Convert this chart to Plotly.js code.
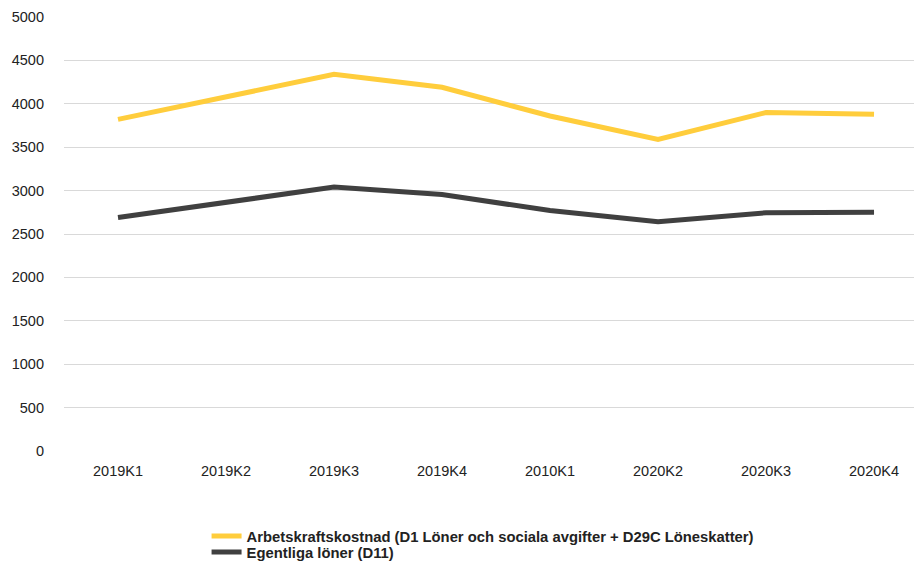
<!DOCTYPE html>
<html>
<head>
<meta charset="utf-8">
<script src="https://cdn.plot.ly/plotly-3.0.1.min.js"></script>
<style>html,body{margin:0;padding:0;background:#fff}#chart{width:914px;height:562px}</style>
</head>
<body>
<div id="chart"></div>
<script>
const categories = ["2019K1","2019K2","2019K3","2019K4","2010K1","2020K2","2020K3","2020K4"];
const arbetskraftskostnad = [3820, 4080, 4340, 4190, 3860, 3590, 3900, 3880];
const egentligaLoner = [2690, 2860, 3040, 2955, 2770, 2640, 2745, 2750];
const seriesNames = ["Arbetskraftskostnad (D1 Löner och sociala avgifter + D29C Löneskatter)", "Egentliga löner (D11)"];
const yTicks = [0,500,1000,1500,2000,2500,3000,3500,4000,4500,5000];

const traces = [
  {x: categories, y: arbetskraftskostnad, name: seriesNames[0], type: "scatter", mode: "lines",
   line: {color: "#FFCD3C", width: 5}, legend: "legend"},
  {x: categories, y: egentligaLoner, name: seriesNames[1], type: "scatter", mode: "lines",
   line: {color: "#404040", width: 5}, legend: "legend2"}
];

const legendBase = {xref: "container", yref: "container", x: 0.226, xanchor: "left", yanchor: "middle",
  font: {size: 14.8, color: "#222", weight: "bold"}, itemwidth: 30, bgcolor: "rgba(0,0,0,0)"};

const layout = {
  width: 914, height: 562,
  margin: {l: 64, r: 0, t: 17, b: 111, autoexpand: false},
  paper_bgcolor: "#fff", plot_bgcolor: "#fff",
  font: {family: "Liberation Sans, Arial, sans-serif", size: 14, color: "#222"},
  showlegend: true,
  xaxis: {type: "category", range: [-0.5, 7.37], showgrid: false, zeroline: false, showline: false,
          ticks: "", tickangle: 0, tickfont: {size: 14.5, color: "#222"}, ticklabelstandoff: 9},
  yaxis: {range: [0, 5000], tickvals: yTicks, showgrid: true, gridcolor: "#d9d9d9", gridwidth: 1,
          zeroline: false, showline: false, ticks: "", tickfont: {size: 14.5, color: "#222"},
          ticklabelstandoff: 19},
  legend: Object.assign({}, legendBase, {y: 1 - 536.5/562}),
  legend2: Object.assign({}, legendBase, {y: 1 - 552.5/562})
};

Plotly.newPlot("chart", traces, layout, {displayModeBar: false, staticPlot: true});
</script>
</body>
</html>
